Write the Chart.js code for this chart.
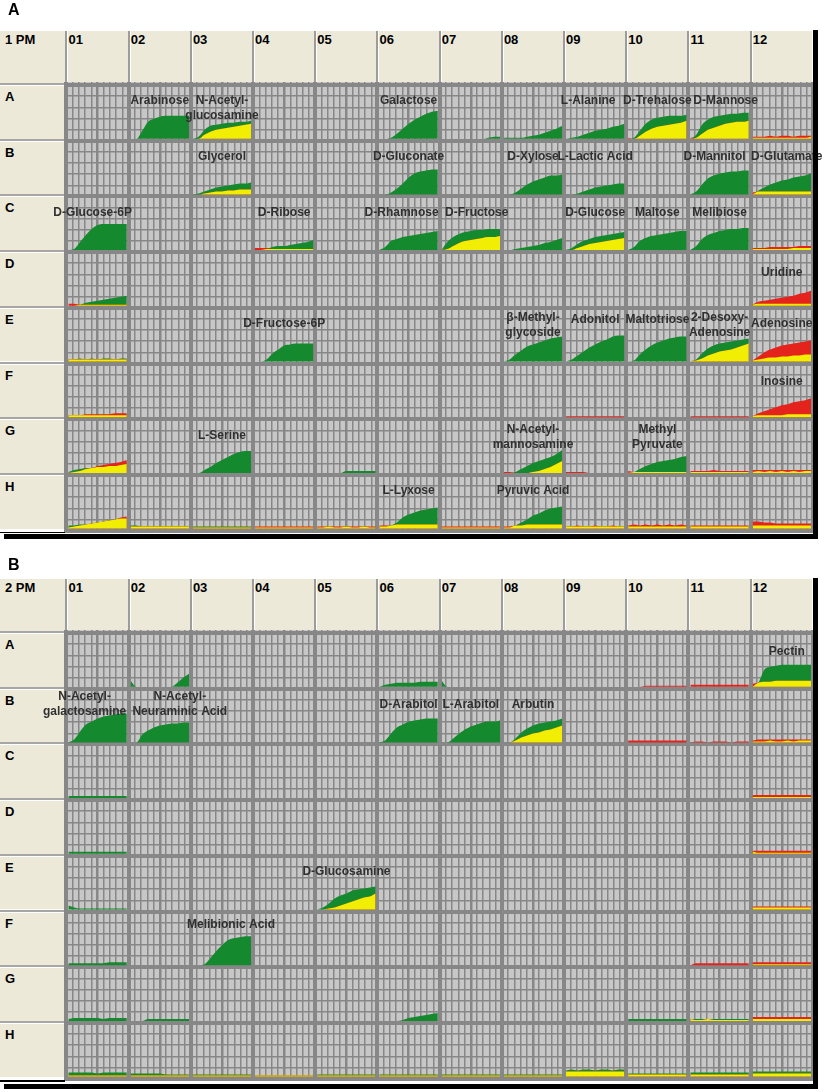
<!DOCTYPE html>
<html>
<head>
<meta charset="utf-8">
<script src="https://cdn.jsdelivr.net/npm/chart.js@4.4.1/dist/chart.umd.min.js"></script>
<style>
  html, body { margin: 0; padding: 0; background: #fff; }
  body { width: 827px; height: 1092px; position: relative; overflow: hidden; font-family: "Liberation Sans", Arial, sans-serif; }
  .panel { position: absolute; left: 0; width: 827px; }
  .panel canvas { position: absolute; left: 0; top: 0; z-index: 2; }
  .letter { position: absolute; left: 8px; font-weight: bold; font-size: 16px; line-height: 16px; z-index: 3; }
  .head { position: absolute; box-sizing: border-box; background: #ece9d8; font-weight: bold; font-size: 13px; line-height: 13px; color: #000; z-index: 1; white-space: nowrap; }
  .corner { padding: 2px 0 0 5px; }
  .col { padding: 2px 0 0 1px; border-left: 2px solid #9c9c9c; box-shadow: inset 1px 0 0 #fff; }
  .row { padding: 5px 0 0 5px; border-top: 2px solid #a6a6a6; box-shadow: inset 0 1px 0 #fff; }
  .rule { position: absolute; background: #000; z-index: 3; }
</style>
</head>
<body>
<div class="panel" id="panelA" style="top:0;height:544px">
  <div class="letter" style="top:2px">A</div>
  <canvas id="plate1" width="827" height="544"></canvas>
</div>
<div class="panel" id="panelB" style="top:548px;height:544px">
  <div class="letter" style="top:9px">B</div>
  <canvas id="plate2" width="827" height="544"></canvas>
</div>
<script>
// plate layout
const plateRows = ['A', 'B', 'C', 'D', 'E', 'F', 'G', 'H'];
const plateCols = ['01', '02', '03', '04', '05', '06', '07', '08', '09', '10', '11', '12'];
const timeSteps = [0, 1, 2, 3, 4, 5, 6, 7, 8, 9, 10]; // readings across the run
const wellFullScale = 55.7; // signal that fills one well

// PM1 kinetic curves (green = test strain, red = reference strain, null = no signal)
const pm1Wells = ['A02', 'A03', 'A06', 'A07', 'A08', 'A09', 'A10', 'A11', 'A12',
  'B03', 'B06', 'B08', 'B09', 'B11', 'B12',
  'C01', 'C04', 'C06', 'C07', 'C08', 'C09', 'C10', 'C11', 'C12',
  'D01', 'D12',
  'E01', 'E04', 'E08', 'E09', 'E10', 'E11', 'E12',
  'F01', 'F09', 'F11', 'F12',
  'G01', 'G03', 'G05', 'G08', 'G09', 'G10', 'G11', 'G12',
  'H01', 'H02', 'H03', 'H04', 'H05', 'H06', 'H07', 'H08', 'H09', 'H10', 'H11', 'H12'];
const pm1Test = [
  [0, 0, 8, 17, 20, 22, 23, 23, 23, 23, 23],
  [0, 2, 9, 13, 14, 15, 16, 16, 17, 17, 18],
  [0, 0, 1, 5, 10, 15, 19, 22, 25, 27, 28],
  [0, 0, 0, 0, 0, 0, 0, 0, 1, 2, 2],
  [1, 1, 1, 1, 2, 3, 4, 6, 8, 10, 13],
  [0, 1, 2, 4, 6, 8, 9, 10, 12, 13, 15],
  [0, 1, 8, 15, 19, 21, 22, 23, 23, 23, 24],
  [0, 4, 14, 19, 22, 23, 24, 25, 25, 26, 26],
  [1, 1, 1, 1, 1, 1, 1, 1, 1, 1, 2],
  [0, 1, 3, 5, 7, 8, 9, 10, 11, 11, 12],
  [0, 0, 2, 6, 11, 17, 21, 23, 24, 25, 25],
  [0, 0, 2, 6, 10, 13, 15, 17, 19, 19, 20],
  [0, 0, 1, 3, 5, 7, 8, 9, 10, 11, 11],
  [0, 3, 10, 16, 19, 21, 22, 23, 23, 24, 24],
  [0, 4, 7, 10, 12, 14, 15, 17, 18, 19, 21],
  [0, 1, 8, 15, 21, 25, 26, 26, 26, 26, 26],
  [0, 0, 1, 3, 4, 4, 5, 6, 7, 8, 10],
  [0, 3, 9, 11, 13, 14, 15, 16, 17, 18, 19],
  [0, 8, 13, 16, 18, 19, 20, 20, 21, 21, 21],
  [0, 0, 1, 2, 3, 4, 5, 7, 8, 10, 12],
  [0, 2, 6, 9, 11, 13, 14, 15, 16, 17, 18],
  [0, 3, 9, 12, 14, 15, 16, 17, 18, 19, 19],
  [0, 4, 11, 15, 17, 19, 20, 21, 21, 22, 22],
  [1, 1, 1, 1, 1, 1, 1, 2, 2, 2, 2],
  [0, 0, 1, 3, 4, 5, 6, 7, 8, 9, 10],
  [1, 2, 2, 2, 2, 2, 2, 2, 2, 2, 2],
  [2, 2, 3, 2, 3, 2, 3, 3, 2, 3, 3],
  [0, 0, 2, 8, 12, 16, 17, 18, 18, 18, 18],
  [0, 2, 7, 11, 15, 17, 19, 21, 23, 24, 25],
  [0, 2, 6, 10, 14, 17, 20, 22, 25, 26, 26],
  [0, 1, 7, 12, 16, 19, 21, 23, 24, 25, 25],
  [0, 2, 8, 13, 16, 18, 19, 20, 21, 22, 23],
  [1, 2, 3, 4, 4, 5, 5, 6, 6, 7, 7],
  [2, 2, 2, 2, 2, 2, 2, 2, 2, 2, 2],
  null,
  null,
  [1, 2, 2, 2, 2, 2, 3, 3, 3, 3, 3],
  [1, 3, 4, 5, 5, 6, 6, 7, 7, 8, 9],
  [0, 0, 3, 6, 10, 13, 16, 19, 21, 22, 22],
  [0, 0, 0, 0, 0, 2, 2, 2, 2, 2, 2],
  [0, 0, 1, 4, 7, 10, 12, 14, 16, 19, 23],
  null,
  [0, 1, 4, 7, 9, 11, 12, 13, 14, 16, 17],
  [1, 1, 1, 1, 1, 1, 1, 1, 1, 1, 1],
  [1, 2, 1, 2, 1, 2, 1, 2, 1, 2, 2],
  [3, 3, 4, 4, 5, 6, 7, 8, 9, 10, 10],
  [3, 3, 2, 2, 2, 2, 2, 2, 2, 2, 2],
  [2, 2, 2, 2, 2, 2, 2, 2, 2, 2, 2],
  [1, 1, 1, 1, 1, 1, 1, 1, 1, 1, 1],
  [1, 1, 2, 1, 1, 2, 1, 1, 2, 1, 1],
  [2, 2, 3, 6, 11, 14, 16, 18, 19, 20, 21],
  [1, 1, 1, 1, 1, 1, 1, 1, 1, 1, 1],
  [1, 1, 3, 6, 9, 13, 15, 18, 20, 21, 22],
  [2, 2, 2, 2, 2, 2, 2, 2, 2, 2, 2],
  [2, 2, 2, 2, 2, 2, 2, 2, 2, 2, 2],
  [2, 2, 2, 2, 2, 2, 2, 2, 2, 2, 2],
  [3, 3, 3, 3, 3, 3, 3, 3, 3, 3, 3]
];
const pm1Ref = [
  null,
  [0, 0, 4, 7, 9, 10, 11, 12, 13, 14, 15],
  null,
  null,
  null,
  null,
  [1, 0, 3, 7, 10, 12, 13, 14, 15, 16, 18],
  [1, 1, 5, 9, 11, 13, 15, 16, 17, 17, 18],
  [2, 2, 2, 3, 2, 3, 3, 2, 3, 3, 3],
  [0, 0, 1, 2, 3, 3, 4, 4, 5, 5, 5],
  null,
  null,
  null,
  null,
  [2, 3, 3, 3, 3, 3, 3, 3, 3, 3, 3],
  null,
  [2, 2, 2, 1, 1, 1, 1, 1, 1, 1, 1],
  null,
  [0, 1, 4, 7, 9, 10, 11, 12, 13, 13, 14],
  null,
  [0, 0, 2, 4, 6, 7, 8, 9, 10, 11, 12],
  null,
  null,
  [2, 2, 2, 3, 3, 3, 3, 3, 4, 4, 4],
  [2, 2, 1, 1, 1, 1, 1, 1, 1, 1, 1],
  [1, 4, 5, 6, 7, 8, 9, 10, 12, 13, 15],
  [2, 2, 2, 2, 2, 2, 2, 2, 2, 2, 2],
  null,
  null,
  null,
  null,
  [0, 1, 3, 6, 8, 10, 11, 12, 14, 16, 18],
  [1, 5, 9, 12, 14, 16, 17, 18, 19, 20, 21],
  [2, 2, 2, 3, 3, 3, 3, 3, 4, 4, 4],
  [1, 1, 1, 1, 1, 1, 1, 1, 1, 1, 1],
  [1, 1, 1, 1, 1, 1, 1, 1, 1, 1, 1],
  [1, 4, 6, 8, 10, 12, 13, 15, 16, 17, 19],
  [0, 1, 2, 4, 5, 7, 8, 9, 10, 11, 13],
  null,
  null,
  [1, 1, 0, 0, 0, 1, 2, 4, 6, 9, 12],
  [1, 1, 1, 1, 0, 0, 0, 0, 0, 0, 0],
  [2, 1, 1, 1, 1, 1, 1, 1, 1, 1, 1],
  [2, 2, 2, 2, 3, 2, 2, 2, 2, 2, 2],
  [3, 3, 3, 3, 3, 3, 3, 3, 3, 3, 3],
  [1, 2, 3, 4, 5, 6, 7, 8, 9, 11, 12],
  [2, 2, 2, 2, 2, 2, 2, 2, 2, 2, 2],
  [1, 1, 1, 1, 1, 1, 1, 1, 1, 1, 1],
  [2, 2, 2, 2, 2, 2, 2, 2, 2, 2, 2],
  [2, 2, 2, 2, 2, 2, 2, 2, 2, 2, 2],
  [3, 3, 3, 4, 4, 4, 4, 4, 4, 4, 4],
  [2, 2, 2, 2, 2, 2, 2, 2, 2, 2, 2],
  [2, 2, 3, 3, 4, 4, 4, 4, 4, 4, 4],
  [2, 2, 3, 2, 2, 3, 2, 2, 3, 2, 2],
  [3, 4, 3, 4, 3, 4, 3, 4, 3, 4, 3],
  [3, 3, 3, 3, 3, 3, 3, 3, 3, 3, 3],
  [7, 7, 6, 6, 5, 5, 5, 5, 5, 5, 5]
];
const pm1LabelWells = ['A02', 'A03', 'A06', 'A09', 'A10', 'A11', 'B03', 'B06', 'B08', 'B09', 'B11', 'B12',
  'C01', 'C04', 'C06', 'C07', 'C09', 'C10', 'C11', 'D12', 'E04', 'E08', 'E09', 'E10', 'E11', 'E12',
  'F12', 'G03', 'G08', 'G10', 'H06', 'H08'];
const pm1LabelTexts = ['Arabinose', 'N-Acetyl-\nglucosamine', 'Galactose', 'L-Alanine', 'D-Trehalose', 'D-Mannose',
  'Glycerol', 'D-Gluconate', 'D-Xylose', 'L-Lactic Acid', 'D-Mannitol', 'D-Glutamate',
  'D-Glucose-6P', 'D-Ribose', 'D-Rhamnose', 'D-Fructose', 'D-Glucose', 'Maltose', 'Melibiose', 'Uridine',
  'D-Fructose-6P', 'β-Methyl-\nglycoside', 'Adonitol', 'Maltotriose', '2-Desoxy-\nAdenosine', 'Adenosine',
  'Inosine', 'L-Serine', 'N-Acetyl-\nmannosamine', 'Methyl\nPyruvate', 'L-Lyxose', 'Pyruvic Acid'];

// PM2 kinetic curves
const pm2Wells = ['A02', 'A06', 'A07', 'A10', 'A11', 'A12',
  'B01', 'B02', 'B06', 'B07', 'B08', 'B10', 'B11', 'B12',
  'C01', 'C12', 'D01', 'D12',
  'E01', 'E05', 'E12',
  'F01', 'F03', 'F11', 'F12',
  'G01', 'G02', 'G06', 'G10', 'G11', 'G12',
  'H01', 'H02', 'H03', 'H04', 'H05', 'H06', 'H07', 'H08', 'H09', 'H10', 'H11', 'H12'];
const pm2Test = [
  [6, 0, 0, 0, 0, 0, 0, 0, 4, 9, 13],
  [0, 2, 3, 4, 4, 4, 4, 5, 5, 5, 5],
  [6, 0, 0, 0, 0, 0, 0, 0, 0, 0, 0],
  null,
  null,
  [0, 4, 17, 20, 21, 22, 22, 22, 22, 22, 22],
  [0, 3, 11, 18, 21, 24, 26, 27, 28, 29, 29],
  [0, 0, 8, 12, 15, 17, 18, 19, 19, 20, 20],
  [0, 2, 9, 15, 18, 21, 22, 23, 24, 24, 24],
  [0, 0, 4, 9, 13, 16, 18, 20, 21, 21, 22],
  [0, 0, 4, 10, 14, 17, 19, 20, 21, 22, 24],
  null,
  null,
  [1, 1, 1, 2, 1, 1, 2, 1, 2, 2, 2],
  [2, 2, 2, 2, 2, 2, 2, 2, 2, 2, 2],
  [1, 1, 1, 1, 1, 1, 1, 1, 1, 1, 1],
  [2, 2, 2, 2, 2, 2, 2, 2, 2, 2, 2],
  [2, 1, 1, 1, 1, 1, 1, 1, 1, 1, 1],
  [4, 2, 1, 1, 1, 1, 1, 1, 1, 1, 1],
  [0, 2, 6, 11, 14, 16, 19, 20, 21, 22, 23],
  [2, 2, 2, 2, 2, 2, 2, 2, 2, 2, 2],
  [2, 2, 2, 2, 2, 2, 2, 3, 3, 3, 3],
  [0, 0, 1, 7, 14, 20, 25, 27, 28, 29, 29],
  null,
  [1, 1, 1, 1, 1, 1, 1, 1, 1, 1, 1],
  [2, 3, 3, 3, 3, 3, 2, 3, 3, 3, 3],
  [0, 0, 0, 2, 2, 2, 2, 2, 2, 2, 2],
  [0, 0, 0, 0, 1, 3, 4, 5, 6, 7, 8],
  [2, 2, 2, 2, 2, 2, 2, 2, 2, 2, 2],
  [2, 2, 2, 2, 2, 2, 2, 2, 2, 2, 2],
  [2, 2, 2, 2, 2, 2, 2, 2, 2, 2, 2],
  [4, 4, 4, 4, 4, 3, 4, 4, 4, 4, 4],
  [3, 3, 3, 3, 3, 3, 2, 2, 2, 2, 2],
  [2, 2, 2, 2, 2, 2, 2, 2, 2, 2, 2],
  [1, 1, 1, 1, 1, 1, 1, 1, 1, 1, 1],
  [2, 2, 2, 2, 2, 2, 2, 2, 2, 2, 2],
  [2, 2, 2, 2, 2, 2, 2, 2, 2, 2, 2],
  [2, 2, 2, 2, 2, 2, 2, 2, 2, 2, 2],
  [2, 2, 2, 2, 2, 2, 2, 2, 2, 2, 2],
  [6, 7, 6, 7, 7, 6, 7, 7, 6, 7, 7],
  [3, 3, 3, 3, 3, 3, 3, 3, 3, 3, 3],
  [4, 4, 4, 4, 4, 4, 4, 4, 4, 4, 4],
  [5, 5, 5, 5, 5, 5, 5, 5, 5, 5, 5]
];
const pm2Ref = [
  null,
  null,
  null,
  [0, 0, 0, 1, 1, 1, 1, 1, 1, 1, 1],
  [2, 2, 2, 2, 2, 2, 2, 2, 2, 2, 2],
  [3, 4, 5, 5, 6, 6, 6, 6, 6, 6, 6],
  null,
  null,
  null,
  null,
  [0, 0, 2, 5, 7, 9, 10, 12, 13, 15, 17],
  [2, 2, 2, 2, 2, 2, 2, 2, 2, 2, 2],
  [0, 1, 1, 0, 1, 1, 1, 0, 1, 1, 1],
  [2, 3, 3, 3, 3, 3, 3, 3, 3, 3, 3],
  null,
  [3, 3, 3, 3, 3, 3, 3, 3, 3, 3, 3],
  null,
  [3, 3, 3, 3, 3, 3, 3, 3, 3, 3, 3],
  null,
  [0, 0, 1, 2, 4, 6, 8, 10, 12, 13, 16],
  [3, 3, 3, 3, 3, 3, 3, 3, 3, 3, 3],
  null,
  null,
  [0, 2, 2, 2, 2, 2, 2, 2, 2, 2, 2],
  [3, 3, 3, 3, 3, 3, 3, 3, 3, 3, 3],
  null,
  null,
  null,
  null,
  [2, 1, 1, 2, 1, 1, 1, 1, 1, 1, 1],
  [4, 4, 4, 4, 4, 4, 4, 4, 4, 4, 4],
  [1, 1, 1, 1, 1, 1, 1, 1, 1, 1, 1],
  [1, 1, 1, 1, 1, 1, 1, 1, 1, 1, 1],
  [1, 1, 1, 1, 1, 1, 1, 1, 1, 1, 1],
  [1, 1, 1, 1, 1, 1, 1, 1, 1, 1, 1],
  [1, 1, 1, 1, 1, 1, 1, 1, 1, 1, 1],
  [1, 1, 1, 1, 1, 1, 1, 1, 1, 1, 1],
  [1, 1, 1, 1, 1, 1, 1, 1, 1, 1, 1],
  [1, 1, 1, 1, 1, 1, 1, 1, 1, 1, 1],
  [5, 5, 5, 5, 5, 5, 5, 5, 5, 5, 5],
  [2, 2, 2, 2, 2, 2, 2, 2, 2, 2, 2],
  [2, 2, 2, 2, 2, 2, 2, 2, 2, 2, 2],
  [3, 3, 3, 3, 3, 3, 3, 3, 3, 3, 3]
];
const pm2LabelWells = ['A12', 'B01', 'B02', 'B06', 'B07', 'B08', 'E05', 'F03'];
const pm2LabelTexts = ['Pectin', 'N-Acetyl-\ngalactosamine', 'N-Acetyl-\nNeuraminic Acid', 'D-Arabitol',
  'L-Arabitol', 'Arbutin', 'D-Glucosamine', 'Melibionic Acid'];

// label placement tweaks (px)
const labelNudge = {
  '1:A03': { dy: 6 }, '1:A09': { dx: -7 }, '1:A11': { dx: 6 }, '1:B11': { dx: -5 }, '1:B12': { dx: 5 },
  '1:C01': { dx: -5 }, '1:C06': { dx: -7 }, '1:C07': { dx: 6 }, '1:D12': { dy: 5 },
  '1:E09': { dy: -4 }, '1:E10': { dy: -4 }, '1:F12': { dy: 2 },
  '2:A12': { dx: 5, dy: 3 }, '2:B01': { dx: -13, dy: -2 }, '2:B02': { dx: 20, dy: -2 }, '2:F03': { dx: 9, dy: -3 }
};

const GREEN = '#14892d';
const YELLOW = '#f1ed03';
const RED = '#e4231d';
const CELL = '#c7c7c7';
const LINE = '#878787';

function wellPos(id) {
  return { r: plateRows.indexOf(id[0]), c: plateCols.indexOf(id.slice(1)) };
}

function curve(values, c, base, color, order) {
  return {
    data: values.map((v, k) => ({ x: c * 10 + 0.3 + timeSteps[k] * 0.94, y: base + v * 5 / wellFullScale })),
    backgroundColor: color,
    borderColor: 'rgba(0,0,0,0)',
    borderWidth: 0,
    fill: { value: base },
    pointRadius: 0,
    order: order,
    cubicInterpolationMode: 'monotone'
  };
}

function buildDatasets(wells, test, ref) {
  const sets = [];
  wells.forEach((id, i) => {
    const { r, c } = wellPos(id);
    const base = (7 - r) * 5 + 0.18;
    const g = test[i], rd = ref[i];
    if (g) sets.push(curve(g, c, base, GREEN, 3));
    if (rd) sets.push(curve(rd, c, base, RED, 2));
    if (g && rd) sets.push(curve(g.map((v, k) => Math.min(v, rd[k])), c, base, YELLOW, 1));
  });
  return sets;
}

const plateBackground = {
  id: 'plateBackground',
  beforeDraw(chart) {
    const { ctx, chartArea: a } = chart;
    ctx.save();
    ctx.fillStyle = CELL;
    ctx.fillRect(a.left, a.top, a.right - a.left, a.bottom - a.top);
    ctx.restore();
  }
};

const wellLabels = {
  id: 'wellLabels',
  afterDatasetsDraw(chart, args, opts) {
    const { ctx, scales: { x, y } } = chart;
    ctx.save();
    ctx.font = 'bold 12px "Liberation Sans", Arial, sans-serif';
    ctx.fillStyle = '#303030';
    ctx.textAlign = 'center';
    ctx.textBaseline = 'middle';
    opts.wells.forEach((id, i) => {
      const { r, c } = wellPos(id);
      const nudge = labelNudge[opts.plate + ':' + id] || {};
      const cx = x.getPixelForValue(c * 10 + 5) + (nudge.dx || 0);
      const top = y.getPixelForValue((8 - r) * 5);
      const lines = opts.texts[i].split('\n');
      const first = (lines.length > 1 ? 10 : 16) + (nudge.dy || 0);
      lines.forEach((ln, k) => ctx.fillText(ln, cx, top + first + k * 15));
    });
    ctx.restore();
  }
};

function gridScale(min, max, major, minor) {
  return {
    type: 'linear',
    min: min,
    max: max,
    ticks: { display: false, stepSize: 1, includeBounds: false },
    grid: {
      color: LINE,
      drawTicks: false,
      lineWidth: ctx => {
        const v = Math.round(ctx.tick.value);
        if (v % major === 0) return 4;
        if (minor && v % minor === 0) return 2.5;
        return 1.5;
      }
    },
    border: { display: false }
  };
}

function makePlate(canvasId, plate, wells, test, ref, labelWells, labelTexts) {
  return new Chart(document.getElementById(canvasId), {
    type: 'line',
    data: { datasets: buildDatasets(wells, test, ref) },
    options: {
      responsive: false,
      animation: false,
      events: [],
      layout: { padding: { left: 64, right: 12, top: 82, bottom: 11 } },
      plugins: {
        legend: { display: false },
        tooltip: { enabled: false },
        wellLabels: { plate: plate, wells: labelWells, texts: labelTexts }
      },
      scales: {
        x: gridScale(-0.4, 120.34, 10, 5),
        y: gridScale(-0.215, 40.27, 5, 0)
      }
    },
    plugins: [plateBackground, wellLabels]
  });
}

function addBox(parent, cls, l, t, w, h, text) {
  const d = document.createElement('div');
  d.className = cls;
  Object.assign(d.style, { left: l + 'px', top: t + 'px', width: w + 'px', height: h + 'px' });
  if (text) d.textContent = text;
  parent.appendChild(d);
}

function drawFrame(panelId, chart, name, thinTop, thickTop) {
  const panel = document.getElementById(panelId);
  const { x, y } = chart.scales;
  const left0 = x.getPixelForValue(0);
  const headTop = 31;
  const headBot = y.getPixelForValue(40);
  addBox(panel, 'head corner', 0, headTop, left0 - 1, headBot - 2 - headTop, name);
  plateCols.forEach((c, i) => {
    const a = x.getPixelForValue(i * 10) - 1;
    const b = x.getPixelForValue(i * 10 + 10) - 1;
    addBox(panel, 'head col', a, headTop, b - a, headBot - 2 - headTop, c);
  });
  plateRows.forEach((r, i) => {
    const t = y.getPixelForValue((8 - i) * 5);
    const b = y.getPixelForValue((7 - i) * 5);
    addBox(panel, 'head row', 0, t - 2, left0 - 1, b - t, r);
  });
  addBox(panel, 'rule', 0, thinTop, left0 - 1, 1.5);
  addBox(panel, 'rule', 4, thickTop, 813, 4.5);
  addBox(panel, 'rule', 813, 30, 5, thickTop + 4.5 - 30);
}

const plate1 = makePlate('plate1', '1', pm1Wells, pm1Test, pm1Ref, pm1LabelWells, pm1LabelTexts);
const plate2 = makePlate('plate2', '2', pm2Wells, pm2Test, pm2Ref, pm2LabelWells, pm2LabelTexts);
drawFrame('panelA', plate1, '1 PM', 531.5, 534);
drawFrame('panelB', plate2, '2 PM', 532, 536);
</script>
</body>
</html>
